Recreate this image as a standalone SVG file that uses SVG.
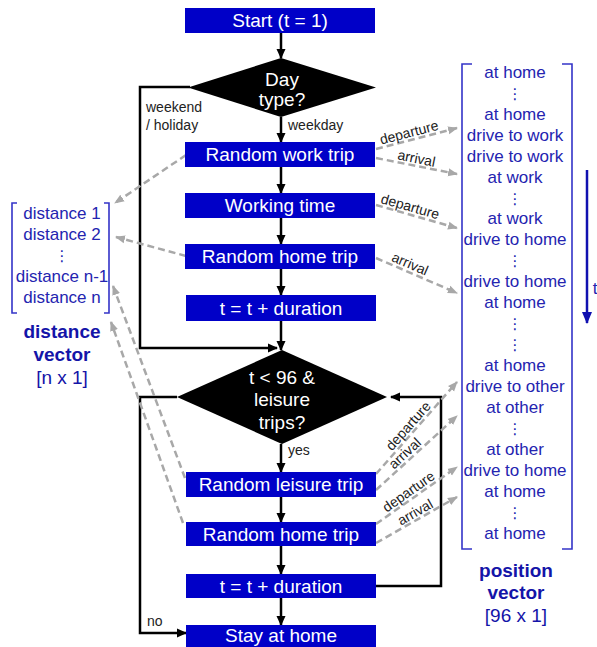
<svg xmlns="http://www.w3.org/2000/svg" width="597" height="647" viewBox="0 0 597 647">
<defs>
<style>
.box{fill:#0000c8}
.bt{font-family:"Liberation Sans",Arial,sans-serif;font-size:19px;fill:#fff;text-anchor:middle}
.dia{fill:#000}
.lbl{font-family:"Liberation Sans",Arial,sans-serif;font-size:14px;fill:#222}
.vec{font-family:"Liberation Sans",Arial,sans-serif;font-size:17px;fill:#2424b0;text-anchor:middle}
.dots{font-family:"DejaVu Sans",sans-serif;font-size:15px;fill:#2424b0;text-anchor:middle}
.vtitle{font-family:"Liberation Sans",Arial,sans-serif;font-size:19px;font-weight:bold;fill:#1414a8;text-anchor:middle}
.vsub{font-family:"Liberation Sans",Arial,sans-serif;font-size:19px;fill:#1414a8;text-anchor:middle}
.flow{fill:none;stroke:#000;stroke-width:2.5}
.dash{fill:none;stroke:#a8a8a8;stroke-width:2.5;stroke-dasharray:7 4}
.br{fill:none;stroke:#3434c8;stroke-width:1.6}
</style>
<marker id="ah" markerWidth="10" markerHeight="10" refX="9" refY="5" orient="auto" markerUnits="userSpaceOnUse">
<path d="M0,0.5 L10,5 L0,9.5 Z" fill="#000"/>
</marker>
<marker id="gh" markerWidth="10" markerHeight="10" refX="9" refY="5" orient="auto" markerUnits="userSpaceOnUse">
<path d="M0,1 L10,5 L0,9 Z" fill="#a8a8a8"/>
</marker>
<marker id="bh" markerWidth="12" markerHeight="12" refX="11" refY="6" orient="auto" markerUnits="userSpaceOnUse">
<path d="M0,1 L12,6 L0,11 Z" fill="#1010b0"/>
</marker>
</defs>

<g id="connectors">
<line class="flow" x1="281" y1="33" x2="281" y2="58" marker-end="url(#ah)"/>
<line class="flow" x1="281" y1="117" x2="281" y2="142" marker-end="url(#ah)"/>
<line class="flow" x1="281" y1="167" x2="281" y2="193" marker-end="url(#ah)"/>
<line class="flow" x1="281" y1="218" x2="281" y2="244" marker-end="url(#ah)"/>
<line class="flow" x1="281" y1="269" x2="281" y2="295" marker-end="url(#ah)"/>
<line class="flow" x1="281" y1="321" x2="281" y2="350" marker-end="url(#ah)"/>
<line class="flow" x1="281" y1="444" x2="281" y2="472" marker-end="url(#ah)"/>
<line class="flow" x1="281" y1="497" x2="281" y2="522" marker-end="url(#ah)"/>
<line class="flow" x1="281" y1="546" x2="281" y2="574" marker-end="url(#ah)"/>
<line class="flow" x1="281" y1="598" x2="281" y2="625" marker-end="url(#ah)"/>
<polyline class="flow" points="190,87 140,87 140,348 277,348" marker-end="url(#ah)"/>
<polyline class="flow" points="177,397 140,397 140,633 186,633" marker-end="url(#ah)"/>
<polyline class="flow" points="376,586 441,586 441,397 391,397" marker-end="url(#ah)"/>

<line class="dash" x1="186" y1="155" x2="115" y2="203" marker-end="url(#gh)"/>
<line class="dash" x1="186" y1="256" x2="116" y2="237" marker-end="url(#gh)"/>
<line class="dash" x1="185" y1="478" x2="113" y2="286" marker-end="url(#gh)"/>
<line class="dash" x1="183" y1="523" x2="111" y2="322" marker-end="url(#gh)"/>

<line class="dash" x1="376" y1="149" x2="457" y2="128" marker-end="url(#gh)"/>
<line class="dash" x1="376" y1="158" x2="457" y2="174" marker-end="url(#gh)"/>
<line class="dash" x1="376" y1="205" x2="457" y2="228" marker-end="url(#gh)"/>
<line class="dash" x1="376" y1="258" x2="457" y2="293" marker-end="url(#gh)"/>
<line class="dash" x1="376" y1="474" x2="457" y2="382" marker-end="url(#gh)"/>
<line class="dash" x1="376" y1="490" x2="457" y2="416" marker-end="url(#gh)"/>
<line class="dash" x1="376" y1="524" x2="457" y2="467" marker-end="url(#gh)"/>
<line class="dash" x1="376" y1="543" x2="457" y2="497" marker-end="url(#gh)"/>

<line x1="587" y1="170" x2="587" y2="323" stroke="#1010b0" stroke-width="2.5" marker-end="url(#bh)"/>

<text class="lbl" x="146" y="112">weekend</text>
<text class="lbl" x="146" y="130">/ holiday</text>
<text class="lbl" x="288" y="130">weekday</text>
<text class="lbl" x="288" y="455">yes</text>
<text class="lbl" x="147" y="626">no</text>

<text class="lbl" text-anchor="middle" transform="translate(411,140) rotate(-14.5)" x="0" y="-3">departure</text>
<text class="lbl" text-anchor="middle" transform="translate(415,166) rotate(11.2)" x="0" y="-3">arrival</text>
<text class="lbl" text-anchor="middle" transform="translate(408,214) rotate(15.8)" x="0" y="-3">departure</text>
<text class="lbl" text-anchor="middle" transform="translate(407,271) rotate(23.4)" x="0" y="-3">arrival</text>
<text class="lbl" text-anchor="middle" transform="translate(414,431) rotate(-48.6)" x="0" y="-3">departure</text>
<text class="lbl" text-anchor="middle" transform="translate(410,459) rotate(-42.4)" x="0" y="-3">arrival</text>
<text class="lbl" text-anchor="middle" transform="translate(413,498) rotate(-35.1)" x="0" y="-3">departure</text>
<text class="lbl" text-anchor="middle" transform="translate(419,519) rotate(-29.6)" x="0" y="-3">arrival</text>
</g>

<g id="start"><rect class="box" x="185" y="8" width="190" height="25"/><text class="bt" x="280" y="27">Start (t = 1)</text></g>
<g id="daytype"><polygon class="dia" points="281,58 376,87.5 281,117 188,87.5"/><text class="bt" x="282" y="86">Day</text><text class="bt" x="282" y="106">type?</text></g>
<g id="worktrip"><rect class="box" x="185" y="142" width="190" height="25"/><text class="bt" x="280" y="161">Random work trip</text></g>
<g id="workingtime"><rect class="box" x="185" y="193" width="190" height="25"/><text class="bt" x="280" y="212">Working time</text></g>
<g id="hometrip1"><rect class="box" x="185" y="244" width="190" height="25"/><text class="bt" x="280" y="263">Random home trip</text></g>
<g id="duration1"><rect class="box" x="186" y="295" width="190" height="26"/><text class="bt" x="281" y="315">t = t + duration</text></g>
<g id="leisurecheck"><polygon class="dia" points="282,350 387,397 282,444 177,397"/><text class="bt" x="282" y="384">t &lt; 96 &amp;</text><text class="bt" x="282" y="406">leisure</text><text class="bt" x="282" y="429">trips?</text></g>
<g id="leisuretrip"><rect class="box" x="186" y="472" width="190" height="25"/><text class="bt" x="281" y="491">Random leisure trip</text></g>
<g id="hometrip2"><rect class="box" x="186" y="522" width="190" height="24"/><text class="bt" x="281" y="541">Random home trip</text></g>
<g id="duration2"><rect class="box" x="186" y="574" width="190" height="24"/><text class="bt" x="281" y="593">t = t + duration</text></g>
<g id="stayhome"><rect class="box" x="186" y="625" width="190" height="26"/><text class="bt" x="281" y="642">Stay at home</text></g>

<g id="distancevector">
<path class="br" d="M17,203 H12 V313 H17"/>
<path class="br" d="M104,203 H109 V313 H104"/>
<text class="vec" x="62" y="219">distance 1</text>
<text class="vec" x="62" y="240">distance 2</text>
<text class="dots" x="62" y="261">⋮</text>
<text class="vec" x="62" y="282">distance n-1</text>
<text class="vec" x="62" y="303">distance n</text>
<text class="vtitle" x="62" y="338">distance</text>
<text class="vtitle" x="62" y="361">vector</text>
<text class="vsub" x="62" y="384">[n x 1]</text>
</g>

<g id="positionvector">
<path class="br" d="M472,64 H462 V549 H472"/>
<path class="br" d="M562,64 H572 V549 H562"/>
<text class="vec" x="515" y="78">at home</text>
<text class="dots" x="515" y="99">⋮</text>
<text class="vec" x="515" y="120">at home</text>
<text class="vec" x="515" y="141">drive to work</text>
<text class="vec" x="515" y="162">drive to work</text>
<text class="vec" x="515" y="183">at work</text>
<text class="dots" x="515" y="204">⋮</text>
<text class="vec" x="515" y="224">at work</text>
<text class="vec" x="515" y="245">drive to home</text>
<text class="dots" x="515" y="266">⋮</text>
<text class="vec" x="515" y="287">drive to home</text>
<text class="vec" x="515" y="308">at home</text>
<text class="dots" x="515" y="329">⋮</text>
<text class="dots" x="515" y="350">⋮</text>
<text class="vec" x="515" y="371">at home</text>
<text class="vec" x="515" y="392">drive to other</text>
<text class="vec" x="515" y="413">at other</text>
<text class="dots" x="515" y="434">⋮</text>
<text class="vec" x="515" y="455">at other</text>
<text class="vec" x="515" y="476">drive to home</text>
<text class="vec" x="515" y="497">at home</text>
<text class="dots" x="515" y="518">⋮</text>
<text class="vec" x="515" y="539">at home</text>
<text class="vtitle" x="516" y="577">position</text>
<text class="vtitle" x="516" y="599">vector</text>
<text class="vsub" x="516" y="622">[96 x 1]</text>
<text class="vec" x="595" y="294">t</text>
</g>
</svg>
